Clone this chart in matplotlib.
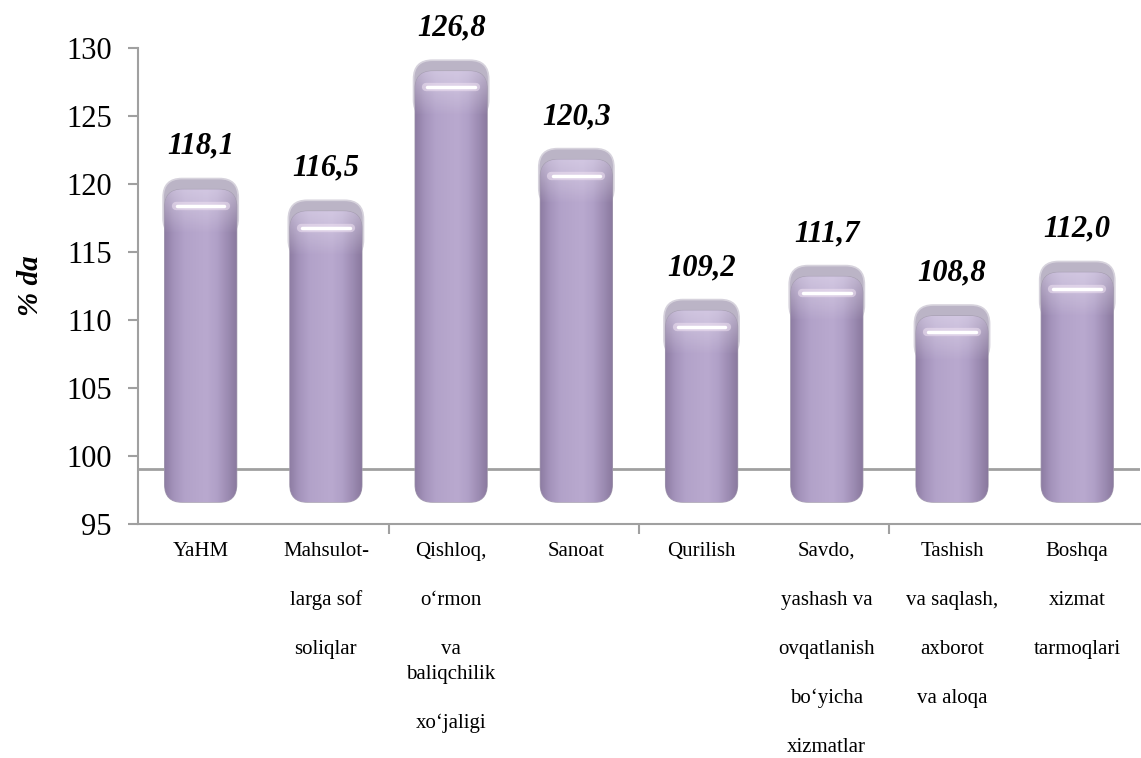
import numpy as np
import matplotlib
matplotlib.use("Agg")
import matplotlib.pyplot as plt
from matplotlib.patches import FancyBboxPatch
from matplotlib.colors import LinearSegmentedColormap

plt.rcParams['font.family'] = ['Liberation Serif', 'DejaVu Serif']

# paragraphs of each category label (inner \n = wrapped line)
categories = [["YaHM"],
              ["Mahsulot-", "larga sof", "soliqlar"],
              ["Qishloq,", "o\u2018rmon", "va\nbaliqchilik", "xo\u2018jaligi"],
              ["Sanoat"],
              ["Qurilish"],
              ["Savdo,", "yashash va", "ovqatlanish", "bo\u2018yicha", "xizmatlar"],
              ["Tashish", "va saqlash,", "axborot", "va aloqa"],
              ["Boshqa", "xizmat", "tarmoqlari"]]
values = [118.1, 116.5, 126.8, 120.3, 109.2, 111.7, 108.8, 112.0]
labels = ["118,1", "116,5", "126,8", "120,3", "109,2", "111,7", "108,8", "112,0"]

fig = plt.figure(figsize=(11.41, 7.58), dpi=100)
ax = fig.add_axes([0.121, 0.3087, 0.878, 0.628])
ax.set_xlim(-0.5, 7.5)
ax.set_ylim(95, 130)

base = 96.6
cap = 2.3
x = np.arange(len(values))
bars = ax.bar(x, np.array(values) + cap - base, bottom=base, width=0.6,
              color="none", edgecolor="none", zorder=3)

aspect = 125.5 / 13.6
cmap = LinearSegmentedColormap.from_list(
    "lav", ["#8a799f", "#a493bb", "#b2a2c9", "#b6a6cc", "#b9a9cf", "#b0a0c7", "#9c8bb2", "#857599"])
grad = np.linspace(0, 1, 256).reshape(1, -1)
shade = LinearSegmentedColormap.from_list("t", [(1, 1, 1, 0.0), (0.95, 0.93, 0.98, 0.45)])

for i, b in enumerate(bars):
    v = values[i]
    x0, y0 = b.get_x(), b.get_y()
    w = b.get_width()
    # top cap
    capbox = FancyBboxPatch((x0, v - 2), w, cap + 2,
                            boxstyle="round,pad=0,rounding_size=0.15",
                            mutation_aspect=aspect, fc="#bbb4c6", ec="#d6d2dc",
                            lw=1.2, zorder=3)
    ax.add_patch(capbox)
    body = FancyBboxPatch((x0 + 0.012, y0), w - 0.024, v + 1.5 - y0,
                          boxstyle="round,pad=0,rounding_size=0.14",
                          mutation_aspect=aspect, fc="none", ec="#a8a1b2",
                          lw=0.8, zorder=4)
    ax.add_patch(body)
    im = ax.imshow(grad, cmap=cmap, aspect="auto",
                   extent=(x0, x0 + w, y0, v + 1.5), zorder=4)
    im.set_clip_path(body)
    top = ax.imshow(np.linspace(0, 1, 64).reshape(-1, 1), cmap=shade, aspect="auto",
                    origin="lower", extent=(x0, x0 + w, v - 1.8, v + 1.5), zorder=5)
    top.set_clip_path(body)
    # highlight
    ax.plot([x0 + 0.1, x0 + w - 0.1], [v + 0.3, v + 0.3], color="#f3e6f5",
            lw=6, solid_capstyle="round", alpha=0.5, zorder=6)
    ax.plot([x0 + 0.11, x0 + w - 0.11], [v + 0.3, v + 0.3], color="white",
            lw=2.5, solid_capstyle="round", zorder=6)
    ax.text(x0 + w / 2, v + cap + 1.3, labels[i], ha="center", va="bottom",
            fontsize=22, fontweight="bold", fontstyle="italic", zorder=7)

ax.axhline(99.05, color="#a0a0a0", lw=2, zorder=2)

for s in ["top", "right"]:
    ax.spines[s].set_visible(False)
for s in ["left", "bottom"]:
    ax.spines[s].set_color("#a0a0a0")
    ax.spines[s].set_linewidth(1.5)

ax.set_yticks(np.arange(95, 131, 5))
ax.tick_params(axis="y", labelsize=22, length=7, width=1.5, color="#a0a0a0", pad=12)
ax.set_xticks([1.5, 3.5, 5.5])
ax.set_xticklabels([])
ax.tick_params(axis="x", length=7, width=1.5, color="#a0a0a0")

# category labels: paragraphs 49 px apart, wrapped lines 25 px apart
for i, paras in enumerate(categories):
    off = 27
    for p in paras:
        for j, line in enumerate(p.split("\n")):
            if j > 0:
                off += 25
            ax.annotate(line, (i, 95), xytext=(0, -off * 0.72), textcoords="offset points",
                        ha="center", va="center", fontsize=15)
        off += 49

ax.set_ylabel("% da", fontsize=21, fontweight="bold", fontstyle="italic", labelpad=16)

plt.savefig("out.png", dpi=100)
